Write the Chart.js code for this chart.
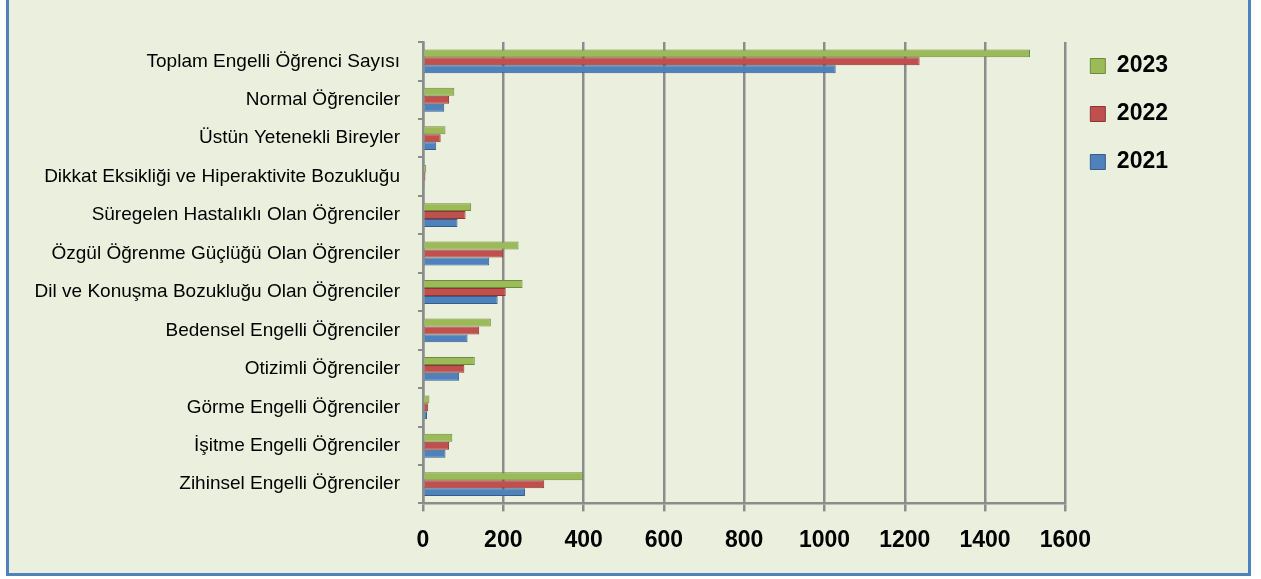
<!DOCTYPE html>
<html lang="tr">
<head>
<meta charset="utf-8">
<title>Engelli Öğrenci Sayıları</title>
<script src="https://cdn.jsdelivr.net/npm/chart.js@4/dist/chart.umd.min.js"></script>
<style>
    body { margin: 0; background: #ffffff; }
    #frame {
        position: absolute;
        left: 6px;
        top: -3px;
        width: 1239px;
        height: 573px;
        border: 3px solid #4f81bd;
        background: #ebf0de;
    }
    #ogrenciChart { display: block; }
</style>
</head>
<body>
<div id="frame">
    <canvas id="ogrenciChart" width="1239" height="573"></canvas>
</div>
<script>
// kategoriler (yukaridan asagiya)
const kategoriler = [
    'Toplam Engelli Öğrenci Sayısı',
    'Normal Öğrenciler',
    'Üstün Yetenekli Bireyler',
    'Dikkat Eksikliği ve Hiperaktivite Bozukluğu',
    'Süregelen Hastalıklı Olan Öğrenciler',
    'Özgül Öğrenme Güçlüğü Olan Öğrenciler',
    'Dil ve Konuşma Bozukluğu Olan Öğrenciler',
    'Bedensel Engelli Öğrenciler',
    'Otizimli Öğrenciler',
    'Görme Engelli Öğrenciler',
    'İşitme Engelli Öğrenciler',
    'Zihinsel Engelli Öğrenciler'
];

const yil2023 = [1512, 78, 56, 8, 120, 238, 248, 169, 129, 16, 73, 398];
const yil2022 = [1237, 65, 44, 6, 106, 200, 206, 140, 103, 13, 65, 302];
const yil2021 = [1028, 53, 33, 4, 86, 165, 186, 111, 90, 10, 56, 254];

const eksenDegerleri = [0, 200, 400, 600, 800, 1000, 1200, 1400, 1600];

const gri = '#8c8c8c';

const ctx = document.getElementById('ogrenciChart').getContext('2d');
new Chart(ctx, {
    type: 'bar',
    data: {
        labels: kategoriler,
        datasets: [{
            label: '2023',
            data: yil2023,
            backgroundColor: '#9bbb59',
            borderColor: '#6f8a3a',
            borderWidth: 1
        }, {
            label: '2022',
            data: yil2022,
            backgroundColor: '#c0504d',
            borderColor: '#8c3533',
            borderWidth: 1
        }, {
            label: '2021',
            data: yil2021,
            backgroundColor: '#4f81bd',
            borderColor: '#355d8c',
            borderWidth: 1
        }]
    },
    options: {
        indexAxis: 'y',
        responsive: false,
        animation: false,
        devicePixelRatio: 1,
        categoryPercentage: 0.62,
        barPercentage: 1.0,
        layout: {
            padding: { top: 29.5, right: 70, bottom: 4, left: 0 }
        },
        scales: {
            x: {
                min: eksenDegerleri[0],
                max: eksenDegerleri[eksenDegerleri.length - 1],
                afterBuildTicks: function(scale) {
                    scale.ticks = eksenDegerleri.map(v => ({ value: v }));
                },
                grid: {
                    color: gri,
                    lineWidth: 2.5,
                    tickLength: 8
                },
                border: { color: gri, width: 2.5 },
                ticks: {
                    color: '#000000',
                    padding: 15,
                    font: { family: 'Liberation Sans', size: 23, weight: 'bold' },
                    callback: function(value) {
                        return String(value);
                    }
                }
            },
            y: {
                // uzun etiketler kesilmesin
                afterFit: function(scale) {
                    scale.width = 414;
                },
                grid: {
                    drawOnChartArea: false,
                    color: gri,
                    lineWidth: 2,
                    tickLength: 5
                },
                border: { color: gri, width: 2.5 },
                ticks: {
                    color: '#000000',
                    padding: 18,
                    font: { family: 'Liberation Sans', size: 19 }
                }
            }
        },
        plugins: {
            // bos baslik: grafik alanini legend'in biraz altina iter
            title: {
                display: true,
                text: '',
                padding: 0,
                font: { size: 10.5 }
            },
            legend: {
                position: 'right',
                align: 'start',
                labels: {
                    boxWidth: 15,
                    boxHeight: 15,
                    padding: 25,
                    color: '#000000',
                    font: { family: 'Liberation Sans', size: 23, weight: 'bold' }
                }
            },
            tooltip: { enabled: false }
        }
    }
});
</script>
</body>
</html>
